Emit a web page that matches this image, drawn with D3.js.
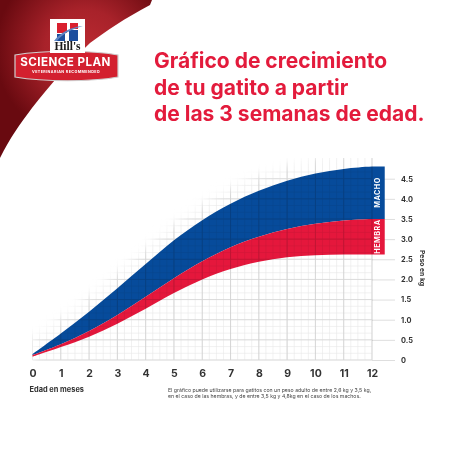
<!DOCTYPE html>
<html>
<head>
<meta charset="utf-8">
<script src="https://cdn.jsdelivr.net/npm/d3@7"></script>
<style>
  html, body { margin: 0; padding: 0; background: #fff; }
  svg { display: block; }
  text { font-family: Inter, "Open Sans", sans-serif; }
</style>
</head>
<body>
<svg id="chart" width="455" height="455"></svg>
<script>
const months = [0, 1, 2, 3, 4, 5, 6, 7, 8, 9, 10, 11, 12, 12.45]
const male_top = [0.15, 0.66, 1.2, 1.78, 2.38, 2.97, 3.47, 3.88, 4.2, 4.45, 4.63, 4.74, 4.8, 4.8]
const male_bottom = [0.12, 0.39, 0.72, 1.12, 1.57, 2.03, 2.45, 2.8, 3.06, 3.25, 3.38, 3.46, 3.5, 3.5]
const female_bottom = [0.08, 0.32, 0.58, 0.9, 1.27, 1.66, 2.0, 2.26, 2.44, 2.55, 2.6, 2.62, 2.62, 2.62]
const month_ticks = d3.range(0, 13)
const weight_ticks = [0, 0.5, 1, 1.5, 2, 2.5, 3, 3.5, 4, 4.5]
const title_lines = ["Gráfico de crecimiento", "de tu gatito a partir", "de las 3 semanas de edad."]
const note_lines = [
  "El gráfico puede utilizarse para gatitos con un peso adulto de entre 2,6 kg y 3,5 kg,",
  "en el caso de las hembras, y de entre 3,5 kg y 4,8kg en el caso de los machos."
]

const blue = "#064b9b"
const red = "#e5173c"
const ink = "#333333"

const svg = d3.select("#chart")
const defs = svg.append("defs")

const x_scale = d3.scaleLinear([0, 12], [32.5, 372])
const y_scale = d3.scaleLinear([0, 4.5], [360, 178.7])

// corner
const corner_grad = defs.append("radialGradient").attr("id", "corner")
  .attr("gradientUnits", "userSpaceOnUse")
  .attr("cx", 85).attr("cy", 50).attr("r", 90)
corner_grad.append("stop").attr("offset", 0).attr("stop-color", "#bb2a31")
corner_grad.append("stop").attr("offset", 0.45).attr("stop-color", "#a8222a")
corner_grad.append("stop").attr("offset", 1).attr("stop-color", "#690a10")

svg.append("path")
  .attr("d", "M0,0H152L150,5C125,18 105,32 90,43C72,60 50,85 32,108C20,124 10,138 0,158Z")
  .attr("fill", "url(#corner)")

// logo
const logo = svg.append("g")
logo.append("path")
  .attr("d", "M15,55C45,50 90,50 118,55V77C90,82 45,82 15,77Z")
  .attr("fill", "#d3202f").attr("stroke", "#cfcfcf").attr("stroke-width", 1.2)
logo.append("rect").attr("x", 50).attr("y", 19).attr("width", 35).attr("height", 34).attr("fill", "#fff")
logo.append("rect").attr("x", 57).attr("y", 23).attr("width", 10).attr("height", 10).attr("fill", "#d9202f")
logo.append("rect").attr("x", 70).attr("y", 23).attr("width", 8).attr("height", 6).attr("fill", "#d9202f")
logo.append("rect").attr("x", 57).attr("y", 34).attr("width", 8).attr("height", 7).attr("fill", "#1d4f9e")
logo.append("rect").attr("x", 69).attr("y", 30).attr("width", 9).attr("height", 11).attr("fill", "#1d4f9e")
logo.append("path").attr("d", "M54,41C60,33 70,27 83,26C72,29 62,34 57,41Z").attr("fill", "#5f86c2")
logo.append("text").attr("x", 67.5).attr("y", 50).attr("text-anchor", "middle")
  .style("font-family", "'Liberation Serif', serif").style("font-weight", 700).style("font-size", "11.5px")
  .attr("fill", "#1a1a1a").text("Hill's")
logo.append("text").attr("x", 65.5).attr("y", 66).attr("text-anchor", "middle")
  .style("font-weight", 700).style("font-size", "11.6px").style("letter-spacing", "0.45px")
  .attr("fill", "#fff").text("SCIENCE PLAN")
logo.append("text").attr("x", 66).attr("y", 72.5).attr("text-anchor", "middle")
  .style("font-weight", 700).style("font-size", "3.7px").style("letter-spacing", "0.4px")
  .attr("fill", "#fff").text("VETERINARIAN RECOMMENDED")

// title
svg.append("g").selectAll("text").data(title_lines).join("text")
  .attr("x", 154)
  .attr("y", (d, i) => 68 + i * 26.5)
  .attr("fill", "#e31b3c")
  .style("font-weight", 700)
  .style("font-size", "21px")
  .text(d => d)

// grid, faded out above the top curve
const top_area = d3.area()
  .x((d, i) => x_scale(months[i]))
  .y0(y_scale(-0.5))
  .y1((d, i) => y_scale(male_top[i]) - 16)
  .curve(d3.curveCatmullRom)

defs.append("filter").attr("id", "soft").append("feGaussianBlur").attr("stdDeviation", 5)
defs.append("mask").attr("id", "grid_mask").attr("maskUnits", "userSpaceOnUse")
  .attr("x", 0).attr("y", 0).attr("width", 455).attr("height", 455)
  .append("path").attr("d", top_area(months)).attr("fill", "#fff").attr("filter", "url(#soft)")

// y axis goes under the bands
const y_axis = d3.axisRight(y_scale).tickValues(weight_ticks).tickSize(23).tickPadding(6)
  .tickFormat(d => d === 0 ? "0" : d3.format(".1f")(d))
svg.append("g").attr("transform", `translate(${x_scale(12)},0)`).call(y_axis)
  .call(g => g.select(".domain").remove())
  .call(g => g.selectAll("line").attr("stroke", "#d6d6d6").attr("stroke-width", 0.8))
  .call(g => g.selectAll("text").style("font-family", "Inter, sans-serif")
    .style("font-size", "7.4px").style("font-weight", 700).attr("fill", ink))

// bands
const band = (upper, lower) => d3.area()
  .x((d, i) => x_scale(months[i]))
  .y0((d, i) => y_scale(lower[i]))
  .y1((d, i) => y_scale(upper[i]))
  .curve(d3.curveCatmullRom)(months)

svg.append("path").attr("d", band(male_top, male_bottom)).attr("fill", blue)
svg.append("path").attr("d", band(male_bottom, female_bottom)).attr("fill", red)

const grid = svg.append("g").attr("mask", "url(#grid_mask)").style("mix-blend-mode", "multiply")

const minor_x = d3.range(0, 12.01, 0.25)
const minor_y = d3.range(0, 4.81, 0.5 / 3)

grid.append("g").selectAll("line").data(minor_x).join("line")
  .attr("x1", d => x_scale(d)).attr("x2", d => x_scale(d))
  .attr("y1", y_scale(0)).attr("y2", 158)
  .attr("stroke", "#e8e8e8").attr("stroke-width", 0.6)
grid.append("g").selectAll("line").data(minor_y).join("line")
  .attr("x1", x_scale(0)).attr("x2", x_scale(12))
  .attr("y1", d => y_scale(d)).attr("y2", d => y_scale(d))
  .attr("stroke", "#e8e8e8").attr("stroke-width", 0.6)
grid.append("g").selectAll("line").data(month_ticks).join("line")
  .attr("x1", d => x_scale(d)).attr("x2", d => x_scale(d))
  .attr("y1", y_scale(0)).attr("y2", 158)
  .attr("stroke", "#cfcfcf").attr("stroke-width", 0.8)
grid.append("g").selectAll("line").data(weight_ticks).join("line")
  .attr("x1", x_scale(0)).attr("x2", x_scale(12))
  .attr("y1", d => y_scale(d)).attr("y2", d => y_scale(d))
  .attr("stroke", "#d6d6d6").attr("stroke-width", 0.8)

// x axis
const x_axis = d3.axisBottom(x_scale).tickValues(month_ticks).tickSize(0).tickPadding(10).tickFormat(d3.format("d"))
svg.append("g").attr("transform", `translate(0,${y_scale(0)})`).call(x_axis)
  .call(g => g.select(".domain").remove())
  .call(g => g.selectAll("text").style("font-family", "Inter, sans-serif")
    .style("font-size", "10.5px").style("font-weight", 700).attr("fill", ink))

// band labels
const band_label = (text, y) => svg.append("text")
  .attr("transform", `translate(${x_scale(12.22)},${y}) rotate(-90)`)
  .attr("text-anchor", "middle").attr("dominant-baseline", "middle")
  .style("font-size", "7.2px").style("font-weight", 700).style("letter-spacing", "0.5px")
  .attr("fill", "#fff").text(text)
band_label("MACHO", 192.5)
band_label("HEMBRA", 236.5)

// axis titles and note
svg.append("text").attr("transform", "translate(420,268) rotate(90)")
  .attr("text-anchor", "middle")
  .style("font-size", "6.8px").style("font-weight", 700).attr("fill", ink).text("Peso en kg")
svg.append("text").attr("x", 29.5).attr("y", 392)
  .style("font-size", "7.4px").style("font-weight", 700).attr("fill", ink).text("Edad en meses")
svg.append("g").selectAll("text").data(note_lines).join("text")
  .attr("x", 168).attr("y", (d, i) => 392 + i * 6)
  .style("font-size", "5.2px").attr("fill", "#444").text(d => d)
</script>
</body>
</html>
